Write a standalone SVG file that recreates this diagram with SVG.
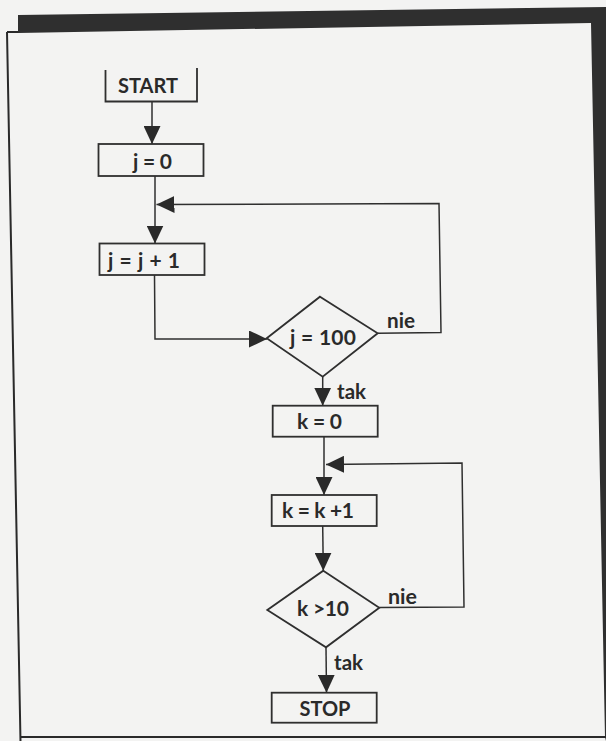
<svg xmlns="http://www.w3.org/2000/svg" width="606" height="741" viewBox="0 0 606 741">
<style>
.bg{fill:#f3f3f2}
.frame{fill:#2f2f2f}
.fl{fill:none;stroke:#2a2a2a;stroke-width:2}
.box{fill:none;stroke:#2f2f2f;stroke-width:1.8}
.t{font-family:"Lato","Open Sans","Liberation Sans",sans-serif;font-weight:700;font-size:21px;fill:#2a2a2a}
.lbl{font-family:"Lato","Open Sans","Liberation Sans",sans-serif;font-weight:700;font-size:20px;fill:#2a2a2a}
.c{fill:none;stroke:#2f2f2f;stroke-width:1.5;marker-end:url(#ah)}
</style>
<defs>
<marker id="ah" markerUnits="userSpaceOnUse" markerWidth="18" markerHeight="17" refX="18" refY="8.5" orient="auto" viewBox="0 0 18 17">
<path d="M0,0 L18,8.5 L0,17 Z" fill="#2a2a2a"/>
</marker>
</defs>
<rect class="bg" x="0" y="0" width="606" height="741"/>
<g id="frame">
<polygon class="frame" points="18,15 606,7 606,741 605,737 591,23 18,33"/>
<path class="fl" d="M7,32 L18,32 M7,32 L20.5,741 M20,737 L606,737"/>
</g>
<g id="connectors">
<path class="c" d="M152,101.5 L152,144"/>
<path class="c" d="M155,176 L155,243.5"/>
<path class="c" d="M154.5,275 L155,339 L267,339"/>
<path class="c" d="M378,333.3 L441,332.5 L439,203.5 L156.5,204.5"/>
<path class="c" d="M322.7,376.7 L322.7,405.7"/>
<path class="c" d="M324,436.7 L324,495"/>
<path class="c" d="M379.3,607.5 L464,607 L462,463 L326,464.5"/>
<path class="c" d="M322.7,526 L323.3,570.7"/>
<path class="c" d="M326,647.3 L326.5,692.7"/>
</g>
<g id="start">
<path class="box" d="M105.5,70 L105.5,101.5 L197,101.5 L197,68"/>
<text class="t" x="118" y="93" textLength="60" lengthAdjust="spacingAndGlyphs">START</text>
</g>
<g id="j0">
<rect class="box" x="98.5" y="144" width="105" height="32"/>
<text class="t" x="133" y="169" textLength="39" lengthAdjust="spacing">j = 0</text>
</g>
<g id="jinc">
<rect class="box" x="99.5" y="243.5" width="105" height="31.5"/>
<text class="t" x="108" y="268" textLength="72" lengthAdjust="spacing">j = j + 1</text>
</g>
<g id="jcheck">
<polygon class="box" points="320,296.7 377.7,333.3 322.7,376.7 266.7,338.3"/>
<text class="t" x="290" y="345" textLength="66" lengthAdjust="spacing">j = 100</text>
<text class="lbl" x="387" y="328" textLength="28" lengthAdjust="spacingAndGlyphs">nie</text>
<text class="lbl" x="337" y="399" textLength="29" lengthAdjust="spacingAndGlyphs">tak</text>
</g>
<g id="k0">
<rect class="box" x="272.7" y="405.7" width="105" height="31"/>
<text class="t" x="297" y="429" textLength="45" lengthAdjust="spacing">k = 0</text>
</g>
<g id="kinc">
<rect class="box" x="271.7" y="495" width="105" height="31"/>
<text class="t" x="282" y="518" textLength="72" lengthAdjust="spacing">k = k +1</text>
</g>
<g id="kcheck">
<polygon class="box" points="323.3,570.7 379.3,607.7 326,647.3 267.3,610"/>
<text class="t" x="297" y="616" textLength="52" lengthAdjust="spacing">k &gt;10</text>
<text class="lbl" x="388" y="604" textLength="29" lengthAdjust="spacingAndGlyphs">nie</text>
<text class="lbl" x="334" y="670" textLength="29" lengthAdjust="spacingAndGlyphs">tak</text>
</g>
<g id="stop">
<rect class="box" x="271.7" y="692.7" width="105" height="30"/>
<text class="t" x="299.5" y="716" textLength="51" lengthAdjust="spacingAndGlyphs">STOP</text>
</g>
</svg>
